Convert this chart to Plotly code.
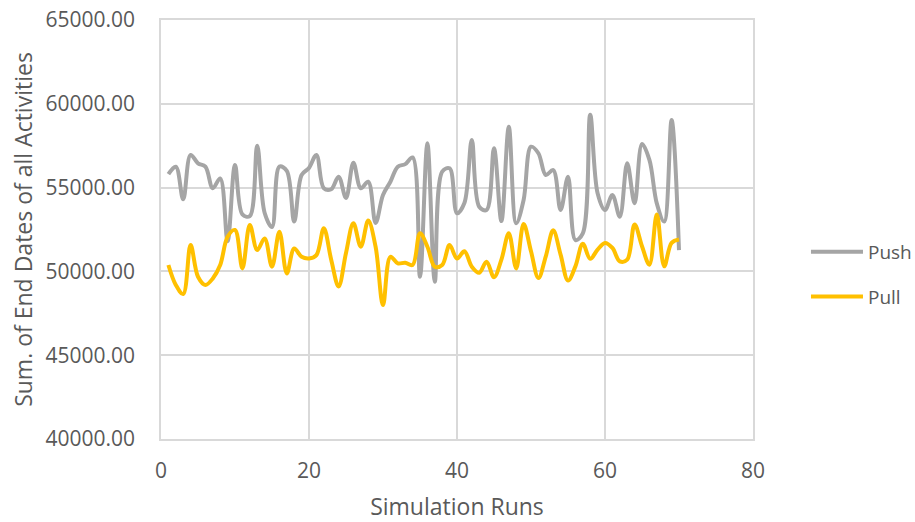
import plotly.graph_objects as go

runs = list(range(1, 71))
push = [55800, 56250, 54300, 56950, 56450, 56250, 54960, 55550, 51800, 56350,
        53400, 53300, 57500, 53500, 52650, 56250, 56000, 52970, 55750, 56170,
        56950, 54960, 54900, 55650, 54380, 56490, 54960, 55350, 52890, 54560,
        55350, 56250, 56400, 56800, 49680, 57640, 49380, 55950, 56150, 53470,
        54080, 57840, 53860, 53660, 57350, 53000, 58630, 52870, 54260, 57440,
        57050, 55750, 56050, 53660, 55650, 51870, 52270, 59350, 54660, 53660,
        54560, 53260, 56450, 54060, 57600, 56650, 54060, 52970, 59030, 51270]
pull = [50380, 49190, 48650, 51570, 49680, 49190, 49580, 50380, 52070, 52470,
        50180, 52770, 51270, 51970, 50280, 52370, 49880, 51370, 50870, 50770,
        50970, 52570, 50700, 49100, 51100, 52870, 51470, 53030, 51470, 47990,
        50870, 50480, 50520, 50380, 52270, 51470, 50280, 50380, 51570, 50770,
        51200, 50280, 49920, 50580, 49650, 50700, 52270, 50180, 52830, 51200,
        49600, 50900, 52450, 51000, 49450, 50300, 51650, 50750, 51300, 51700,
        51400, 50600, 50700, 52800, 51500, 50400, 53400, 50300, 51700, 51900]

x_ticks = [0, 20, 40, 60, 80]
y_ticks = [40000, 45000, 50000, 55000, 60000, 65000]

FONT = "Open Sans"
TXT = "#595959"
GRID = "#d9d9d9"

fig = go.Figure()
fig.add_trace(go.Scatter(x=runs, y=push, name="Push", mode="lines",
                         line=dict(color="#a5a5a5", width=4, shape="spline", smoothing=1),
                         legendgroup="push"))
fig.add_trace(go.Scatter(x=runs, y=pull, name="Pull", mode="lines",
                         line=dict(color="#ffc000", width=4, shape="spline", smoothing=1),
                         legendgroup="pull"))

fig.update_layout(
    width=915, height=522,
    margin=dict(l=161, r=162, t=20, b=83, autoexpand=False),
    paper_bgcolor="white", plot_bgcolor="white",
    font=dict(family=FONT, size=21, color=TXT),
    showlegend=True,
    legend=dict(x=1.0895, y=0.393, xanchor="left", yanchor="middle",
                font=dict(size=19, color=TXT), tracegroupgap=17,
                itemwidth=52,
                bgcolor="rgba(0,0,0,0)"),
)
fig.update_xaxes(range=[0, 80], tickvals=x_ticks, ticktext=[str(v) for v in x_ticks],
                 showgrid=True, gridcolor=GRID, gridwidth=1.5,
                 zeroline=False, showline=True, linecolor=GRID, linewidth=1.5, mirror=True,
                 ticks="", ticklabelstandoff=12,
                 title=dict(text="Simulation Runs", font=dict(size=23, color=TXT), standoff=20))
fig.update_yaxes(range=[40000, 65000], tickvals=y_ticks,
                 ticktext=[f"{v:.2f}" for v in y_ticks],
                 showgrid=True, gridcolor=GRID, gridwidth=1.5,
                 zeroline=False, showline=True, linecolor=GRID, linewidth=1.5, mirror=True,
                 ticks="", ticklabelstandoff=20,
                 title=dict(text="Sum. of End Dates of all Activities", font=dict(size=23, color=TXT), standoff=6))

fig.write_html("out.html")
